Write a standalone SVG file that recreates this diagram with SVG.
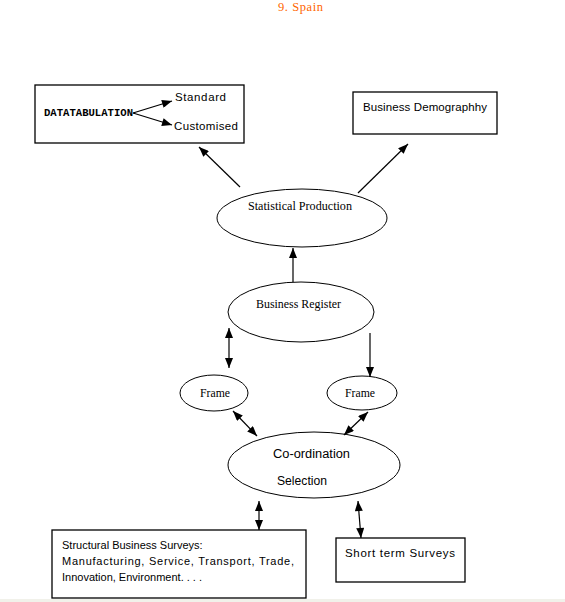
<svg xmlns="http://www.w3.org/2000/svg" width="565" height="602" viewBox="0 0 565 602">
<style>
.box{fill:#fff;stroke:#000;stroke-width:1.3}
.ell{fill:#fff;stroke:#000;stroke-width:1}
.c{stroke:#000;stroke-width:1.2;fill:none}
.hand{font-family:"Liberation Sans",Arial,sans-serif;font-size:11.5px;fill:#000}
.sbs{font-family:"Liberation Sans",Arial,sans-serif;font-size:11px;fill:#000}
.ser{font-family:"Liberation Serif",serif;font-size:12.5px;fill:#000}
.ar{font-family:"Liberation Sans",Arial,sans-serif;font-size:12px;fill:#000}
.mono{font-family:"Liberation Mono",monospace;font-size:10.5px;font-weight:bold;fill:#000}
</style>
<defs>
<marker id="ah" viewBox="0 0 10 8" refX="10" refY="4" markerWidth="11" markerHeight="8" markerUnits="userSpaceOnUse" orient="auto-start-reverse">
<path d="M0,0 L10,4 L0,8 z" fill="#000"/>
</marker>
</defs>
<rect x="0" y="0" width="565" height="602" fill="#fff"/>
<rect x="0" y="599" width="565" height="3" fill="#f1f1ea"/>
<text x="278" y="11" font-family="Liberation Serif,serif" font-size="12.5px" fill="#ff6600" textLength="45">9. Spain</text>

<g id="datatabulation">
<rect class="box" x="35" y="85" width="209" height="58"/>
<text class="mono" x="44" y="116" textLength="89" lengthAdjust="spacingAndGlyphs">DATATABULATION</text>
<text class="hand" x="175" y="101" textLength="51">Standard</text>
<text class="hand" x="174" y="130" textLength="64">Customised</text>
</g>
<g id="demography">
<rect class="box" x="353" y="92" width="144" height="42"/>
<text class="hand" x="363" y="111" textLength="124">Business Demographhy</text>
</g>
<g id="statistical-production">
<ellipse class="ell" cx="302" cy="218" rx="85" ry="29"/>
<text class="ser" x="248" y="210" textLength="104" lengthAdjust="spacingAndGlyphs">Statistical Production</text>
</g>
<g id="business-register">
<ellipse class="ell" cx="301" cy="312" rx="73" ry="30"/>
<text class="ser" x="256" y="308" textLength="85" lengthAdjust="spacingAndGlyphs">Business Register</text>
</g>
<g id="frame-left">
<ellipse class="ell" cx="214" cy="393" rx="34" ry="18"/>
<text class="ser" x="200" y="397" textLength="30" lengthAdjust="spacingAndGlyphs">Frame</text>
</g>
<g id="frame-right">
<ellipse class="ell" cx="362" cy="393" rx="35" ry="17"/>
<text class="ser" x="345" y="397" textLength="30" lengthAdjust="spacingAndGlyphs">Frame</text>
</g>
<g id="coordination">
<ellipse class="ell" cx="314" cy="465" rx="86" ry="33"/>
<text class="ar" x="273" y="458" textLength="77" lengthAdjust="spacingAndGlyphs">Co-ordination</text>
<text class="ar" x="277" y="485" textLength="50" lengthAdjust="spacingAndGlyphs">Selection</text>
</g>
<g id="structural-surveys">
<rect class="box" x="52" y="530" width="254" height="68"/>
<text class="sbs" x="62" y="549">Structural Business Surveys:</text>
<text class="sbs" x="62" y="565" textLength="232">Manufacturing, Service, Transport, Trade,</text>
<text class="sbs" x="62" y="581">Innovation, Environment. . . .</text>
</g>
<g id="short-term-surveys">
<rect class="box" x="336" y="538" width="129" height="44"/>
<text class="hand" x="345" y="557" textLength="110">Short term Surveys</text>
</g>

<g id="connectors">
<line class="c" x1="133" y1="113" x2="172" y2="101" marker-end="url(#ah)"/>
<line class="c" x1="133" y1="113" x2="172" y2="125" marker-end="url(#ah)"/>
<line class="c" x1="240" y1="187" x2="199" y2="147" marker-end="url(#ah)"/>
<line class="c" x1="358" y1="193" x2="408" y2="144" marker-end="url(#ah)"/>
<line class="c" x1="293" y1="282" x2="293" y2="248" marker-end="url(#ah)"/>
<line class="c" x1="229" y1="328" x2="229" y2="368" marker-start="url(#ah)" marker-end="url(#ah)"/>
<line class="c" x1="370" y1="333" x2="370" y2="377" marker-end="url(#ah)"/>
<line class="c" x1="233" y1="411" x2="257" y2="436" marker-start="url(#ah)" marker-end="url(#ah)"/>
<line class="c" x1="368" y1="412" x2="344" y2="435" marker-start="url(#ah)" marker-end="url(#ah)"/>
<line class="c" x1="259" y1="501" x2="259" y2="530" marker-start="url(#ah)" marker-end="url(#ah)"/>
<line class="c" x1="358" y1="501" x2="361" y2="538" marker-start="url(#ah)" marker-end="url(#ah)"/>
</g>
</svg>
